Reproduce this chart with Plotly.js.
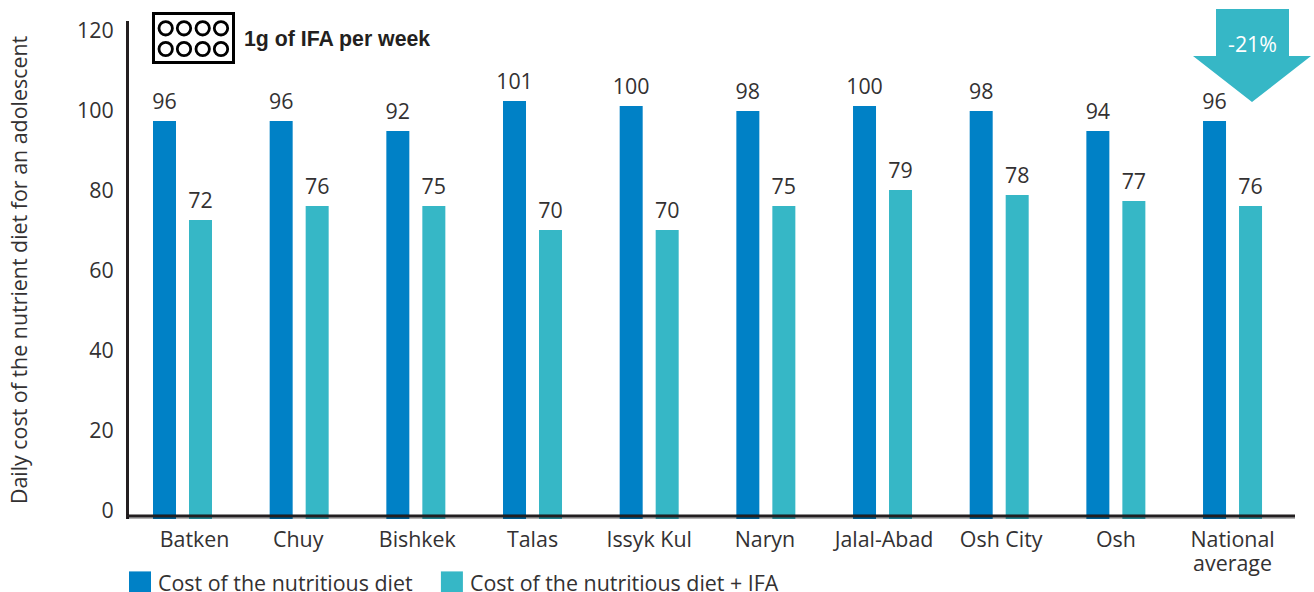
<!DOCTYPE html>
<html><head><meta charset="utf-8">
<script src="https://cdn.plot.ly/plotly-3.0.1.min.js"></script>
<style>html,body{margin:0;padding:0;background:#fff}</style></head>
<body><div id="chart" style="width:1314px;height:592px"></div>
<script>
const regions = ["Batken","Chuy","Bishkek","Talas","Issyk Kul","Naryn","Jalal-Abad","Osh City","Osh","National<br>average"];
const labelShift = [0.103,-0.008,0.013,0,0,-0.008,0.013,0.017,0,0];
const positions = [0,1,2,3,4,5,6,7,8,9];
const dietDrawn = [97.25,97.25,94.75,102.25,101,99.75,101,99.75,94.75,97.25];
const ifaDrawn  = [72.5,76,76,70,70,76,80,78.75,77.25,76];
const dietLabels = ["96","96","92","101","100","98","100","98","94","96"];
const ifaLabels  = ["72","76","75","70","70","75","79","78","77","76"];
const yTicks = [0,20,40,60,80,100,120];
const W=1314,H=592;
const L=129,T=21,B=519,R=1314;
const X=v=>(v-L)/(R-L), Y=v=>(B-v)/(B-T);
const ink='#333132', blue='#0081C6', teal='#36B7C6';
const fs=21.4;
const font={family:'"Open Sans", sans-serif',size:fs,color:ink};
const xr=[(L-182.5)/116.67,(R-182.5)/116.67];
const yr=[(510-B)/4,(510-T)/4];
const BASE=-3, SLOT=0.1543;
function bar(name,vals,color){return {type:'bar',name,x:positions,y:vals.map(v=>v-BASE),base:BASE,marker:{color,line:{width:0}},hoverinfo:'y'};}
function lab(vals,labs,dx){return {type:'scatter',mode:'text',x:positions.map(p=>p+dx),y:vals.map(v=>v+1.75),text:labs,textposition:'top center',textfont:font,showlegend:false,cliponaxis:false,hoverinfo:'skip'};}
const data=[bar('Cost of the nutritious diet',dietDrawn,blue),
            bar('Cost of the nutritious diet + IFA',ifaDrawn,teal),
            lab(dietDrawn,dietLabels,-SLOT),lab(ifaDrawn,ifaLabels,SLOT)];
const shapes=[];
function ps(o){shapes.push(Object.assign({xref:'paper',yref:'paper'},o));}
ps({type:'line',x0:X(L-2),x1:X(1295),y0:Y(516.5),y1:Y(516.5),line:{color:'rgba(0,0,0,0.4)',width:4.5},layer:'above'});
ps({type:'line',x0:X(L-2),x1:X(1295),y0:Y(516),y1:Y(516),line:{color:'#231f20',width:2.6},layer:'above'});
ps({type:'rect',x0:X(153.5),x1:X(233.5),y0:Y(13.5),y1:Y(62.5),line:{color:'#000',width:3},fillcolor:'#fff'});
[165.7,184,202.7,221].forEach(cx=>[28.3,49].forEach(cy=>{
 ps({type:'circle',x0:X(cx-6.7),x1:X(cx+6.7),y0:Y(cy-6.7),y1:Y(cy+6.7),line:{color:'#000',width:2.8},fillcolor:'#fff'});}));
ps({type:'path',path:`M ${X(1216)} ${Y(9)} L ${X(1289)} ${Y(9)} L ${X(1289)} ${Y(56)} L ${X(1311)} ${Y(56)} L ${X(1252)} ${Y(102)} L ${X(1193)} ${Y(56)} L ${X(1216)} ${Y(56)} Z`,fillcolor:teal,line:{width:0}});
const layout={width:W,height:H,paper_bgcolor:'#fff',plot_bgcolor:'rgba(0,0,0,0)',font,showlegend:true,
 margin:{l:L,r:W-R,t:T,b:H-B,pad:0,autoexpand:false},barmode:'group',bargap:0.383,bargroupgap:0.361,
 xaxis:{range:xr,tickvals:positions.map((p,i)=>p+labelShift[i]),ticktext:regions,showgrid:false,zeroline:false,ticks:'outside',tickcolor:'rgba(0,0,0,0)',ticklen:1,tickwidth:1,showline:false,tickfont:font,tickangle:0,automargin:false},
 yaxis:{range:yr,tickvals:yTicks,ticktext:yTicks.map(String),ticks:'outside',tickcolor:'rgba(0,0,0,0)',ticklen:8,tickwidth:1,showgrid:false,zeroline:false,showline:true,linecolor:'#231f20',linewidth:3,tickfont:font,automargin:true,
   title:{text:'Daily cost of the nutrient diet for an adolescent',font,standoff:44}},
 legend:{orientation:'h',x:X(120),xanchor:'left',y:Y(562),yanchor:'top',font,bgcolor:'rgba(0,0,0,0)',itemclick:false,itemdoubleclick:false},
 shapes,
 annotations:[
  {xref:'paper',yref:'paper',x:X(242),y:Y(39),xanchor:'left',yanchor:'middle',showarrow:false,text:'<b>1g of IFA per week</b>',font:{family:'"Liberation Sans", Arial, sans-serif',size:21.3,color:'#231f20'}},
  {xref:'paper',yref:'paper',x:X(1252),y:Y(43),xanchor:'center',yanchor:'middle',showarrow:false,text:'-21%',font:{family:font.family,size:fs,color:'#fff'}}
 ]};
let base2=null;
function tweak(){
 document.querySelectorAll('.legend .legendpoints path').forEach(p=>p.setAttribute('d','M11,11H-11V-11H11Z'));
 document.querySelectorAll('.legend .legendtext').forEach(t=>t.setAttribute('x','38'));
 document.querySelectorAll('.legend .scrollbox, .legend').forEach(g=>g.removeAttribute('clip-path'));
 document.querySelectorAll('.legend .scrollbox, .legend').forEach(g=>{g.style.clipPath='none';});
 document.querySelectorAll('.legend .bg').forEach(g=>g.setAttribute('width','800'));
 document.querySelectorAll('.legend clipPath rect').forEach(g=>{g.setAttribute('width','800');g.setAttribute('height','60');});
 document.querySelectorAll('.xtick text tspan.line').forEach((t,i)=>{ if(i>0) t.setAttribute('dy','1.12em'); });
 const tr=document.querySelectorAll('.legend .traces')[1];
 if(tr){ const m=/translate\(([-\d.]+),\s*([-\d.]+)\)/.exec(tr.getAttribute('transform')||'');
   if(m && base2===null){ base2=[+m[1],+m[2]]; tr.setAttribute('transform',`translate(${base2[0]+12},${base2[1]})`);} }
}
const gd=document.getElementById('chart');
Plotly.newPlot(gd,data,layout,{displayModeBar:false,responsive:false}).then(()=>{ tweak(); });
</script></body></html>
